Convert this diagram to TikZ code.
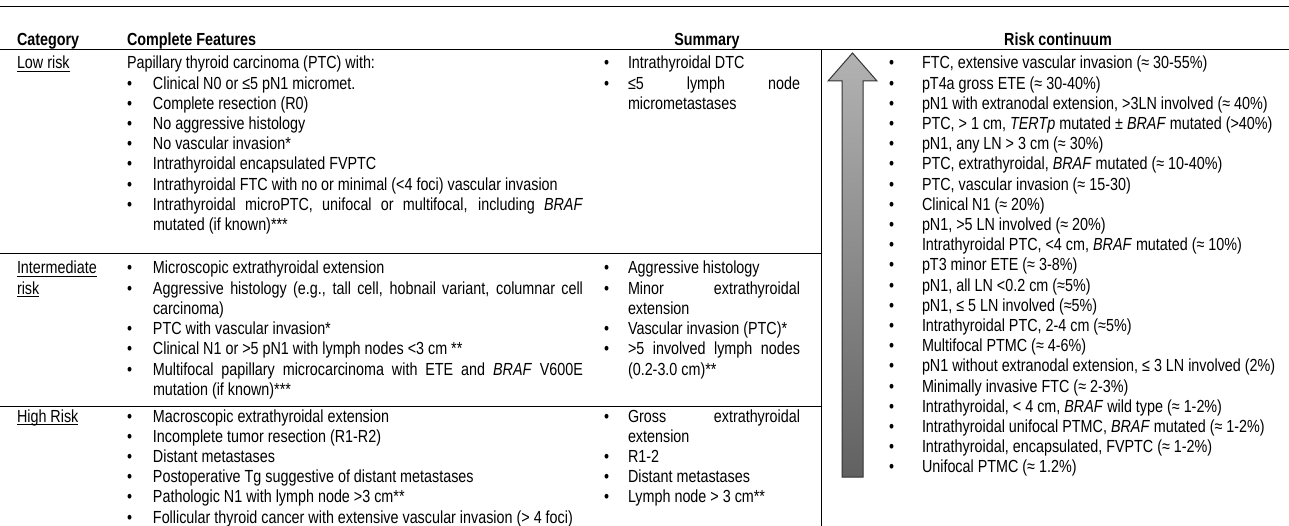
\documentclass[tikz,border=0pt]{standalone}
\usepackage{fontspec}
\setmainfont{Liberation Sans}[FakeStretch=0.82]
\newcommand{\fsz}{\fontsize{17.5}{20.2}\selectfont}
\newcommand{\bl}[1]{\makebox[#1][l]{\textbullet}}
\newcommand{\ulx}[1]{\setbox0\hbox{#1}\rlap{\rule[-3pt]{\wd0}{1pt}}\box0}
\newcommand{\jl}[2]{\makebox[#1][s]{#2}}
\tikzset{
  rule/.style={line width=1pt, black},
  txt/.style={anchor=base west, inner sep=0pt, outer sep=0pt, font=\fsz},
  hdr/.style={anchor=base, inner sep=0pt, outer sep=0pt, font=\fsz\bfseries},
  hdrl/.style={anchor=base west, inner sep=0pt, outer sep=0pt, font=\fsz\bfseries},
  riskarrow/.style={top color=black!30, bottom color=black!62, draw=black!80, line width=1pt},
}
\begin{document}
\begin{tikzpicture}[x=1pt,y=-1pt]
\useasboundingbox (0,0) rectangle (1289,526);
% rules
\draw[rule] (0,7) -- (1289,7);
\draw[rule] (0,49.5) -- (1289,49.5);
\draw[rule] (0,254) -- (821,254);
\draw[rule] (0,406) -- (821,406);
\draw[rule] (821,49.5) -- (821,526);
% headers
\node[hdrl] (hcat) at (17,45.5) {Category};
\node[hdrl] (hcf) at (127,45.5) {Complete Features};
\node[hdr] (hsum) at (707,45.5) {Summary};
\node[hdr] (hrisk) at (1058,45.5) {Risk continuum};
% categories
\node[txt] (clow) at (17,69) {\ulx{Low risk}};
\node[txt] (cint) at (17,274) {\ulx{Intermediate}};
\node[txt] (cint2) at (17,294.2) {\ulx{risk}};
\node[txt] (chigh) at (17,422) {\ulx{High Risk}};
% complete features
\node[txt] (cflow) at (127,69) {\begin{tabular}[t]{@{}l@{}l@{}}
\multicolumn{2}{@{}l@{}}{Papillary thyroid carcinoma (PTC) with:}\\
\bl{26pt} & Clinical N0 or ≤5 pN1 micromet.\\
\bl{26pt} & Complete resection (R0)\\
\bl{26pt} & No aggressive histology\\
\bl{26pt} & No vascular invasion*\\
\bl{26pt} & Intrathyroidal encapsulated FVPTC\\
\bl{26pt} & Intrathyroidal FTC with no or minimal (<4 foci) vascular invasion\\
\bl{26pt} & \jl{430pt}{Intrathyroidal microPTC, unifocal or multifocal, including \textit{BRAF}}\\
 & mutated (if known)***
\end{tabular}};
\node[txt] (cfint) at (127,274) {\begin{tabular}[t]{@{}l@{}l@{}}
\bl{26pt} & Microscopic extrathyroidal extension\\
\bl{26pt} & \jl{430pt}{Aggressive histology (e.g., tall cell, hobnail variant, columnar cell}\\
 & carcinoma)\\
\bl{26pt} & PTC with vascular invasion*\\
\bl{26pt} & Clinical N1 or >5 pN1 with lymph nodes <3 cm **\\
\bl{26pt} & \jl{430pt}{Multifocal papillary microcarcinoma with ETE and \textit{BRAF} V600E}\\
 & mutation (if known)***
\end{tabular}};
\node[txt] (cfhigh) at (127,422) {\begin{tabular}[t]{@{}l@{}l@{}}
\bl{26pt} & Macroscopic extrathyroidal extension\\
\bl{26pt} & Incomplete tumor resection (R1-R2)\\
\bl{26pt} & Distant metastases\\
\bl{26pt} & Postoperative Tg suggestive of distant metastases\\
\bl{26pt} & Pathologic N1 with lymph node >3 cm**\\
\bl{26pt} & Follicular thyroid cancer with extensive vascular invasion (> 4 foci)
\end{tabular}};
% summary
\node[txt] (slow) at (604,69) {\begin{tabular}[t]{@{}l@{}l@{}}
\bl{24pt} & Intrathyroidal DTC\\
\bl{24pt} & \jl{172pt}{≤5 lymph node}\\
 & micrometastases
\end{tabular}};
\node[txt] (sint) at (604,274) {\begin{tabular}[t]{@{}l@{}l@{}}
\bl{24pt} & Aggressive histology\\
\bl{24pt} & \jl{172pt}{Minor extrathyroidal}\\
 & extension\\
\bl{24pt} & Vascular invasion (PTC)*\\
\bl{24pt} & \jl{172pt}{>5 involved lymph nodes}\\
 & (0.2-3.0 cm)**
\end{tabular}};
\node[txt] (shigh) at (604,422) {\begin{tabular}[t]{@{}l@{}l@{}}
\bl{24pt} & \jl{172pt}{Gross extrathyroidal}\\
 & extension\\
\bl{24pt} & R1-2\\
\bl{24pt} & Distant metastases\\
\bl{24pt} & Lymph node > 3 cm**
\end{tabular}};
% arrow
\path[riskarrow] (852.5,53) -- (877,81) -- (863,81) -- (863,477) -- (842,477) -- (842,81) -- (828,81) -- cycle;
% risk continuum
\node[txt] (risk) at (889,69) {\begin{tabular}[t]{@{}l@{}l@{}}
\bl{33pt} & FTC, extensive vascular invasion (≈ 30-55\%)\\
\bl{33pt} & pT4a gross ETE (≈ 30-40\%)\\
\bl{33pt} & pN1 with extranodal extension, >3LN involved (≈ 40\%)\\
\bl{33pt} & PTC, > 1 cm, \textit{TERTp} mutated ± \textit{BRAF} mutated (>40\%)\\
\bl{33pt} & pN1, any LN > 3 cm (≈ 30\%)\\
\bl{33pt} & PTC, extrathyroidal, \textit{BRAF} mutated (≈ 10-40\%)\\
\bl{33pt} & PTC, vascular invasion (≈ 15-30)\\
\bl{33pt} & Clinical N1 (≈ 20\%)\\
\bl{33pt} & pN1, >5 LN involved (≈ 20\%)\\
\bl{33pt} & Intrathyroidal PTC, <4 cm, \textit{BRAF} mutated (≈ 10\%)\\
\bl{33pt} & pT3 minor ETE (≈ 3-8\%)\\
\bl{33pt} & pN1, all LN <0.2 cm (≈5\%)\\
\bl{33pt} & pN1, ≤ 5 LN involved (≈5\%)\\
\bl{33pt} & Intrathyroidal PTC, 2-4 cm (≈5\%)\\
\bl{33pt} & Multifocal PTMC (≈ 4-6\%)\\
\bl{33pt} & pN1 without extranodal extension, ≤ 3 LN involved (2\%)\\
\bl{33pt} & Minimally invasive FTC (≈ 2-3\%)\\
\bl{33pt} & Intrathyroidal, < 4 cm, \textit{BRAF} wild type (≈ 1-2\%)\\
\bl{33pt} & Intrathyroidal unifocal PTMC, \textit{BRAF} mutated (≈ 1-2\%)\\
\bl{33pt} & Intrathyroidal, encapsulated, FVPTC (≈ 1-2\%)\\
\bl{33pt} & Unifocal PTMC (≈ 1.2\%)
\end{tabular}};
\end{tikzpicture}
\end{document}
